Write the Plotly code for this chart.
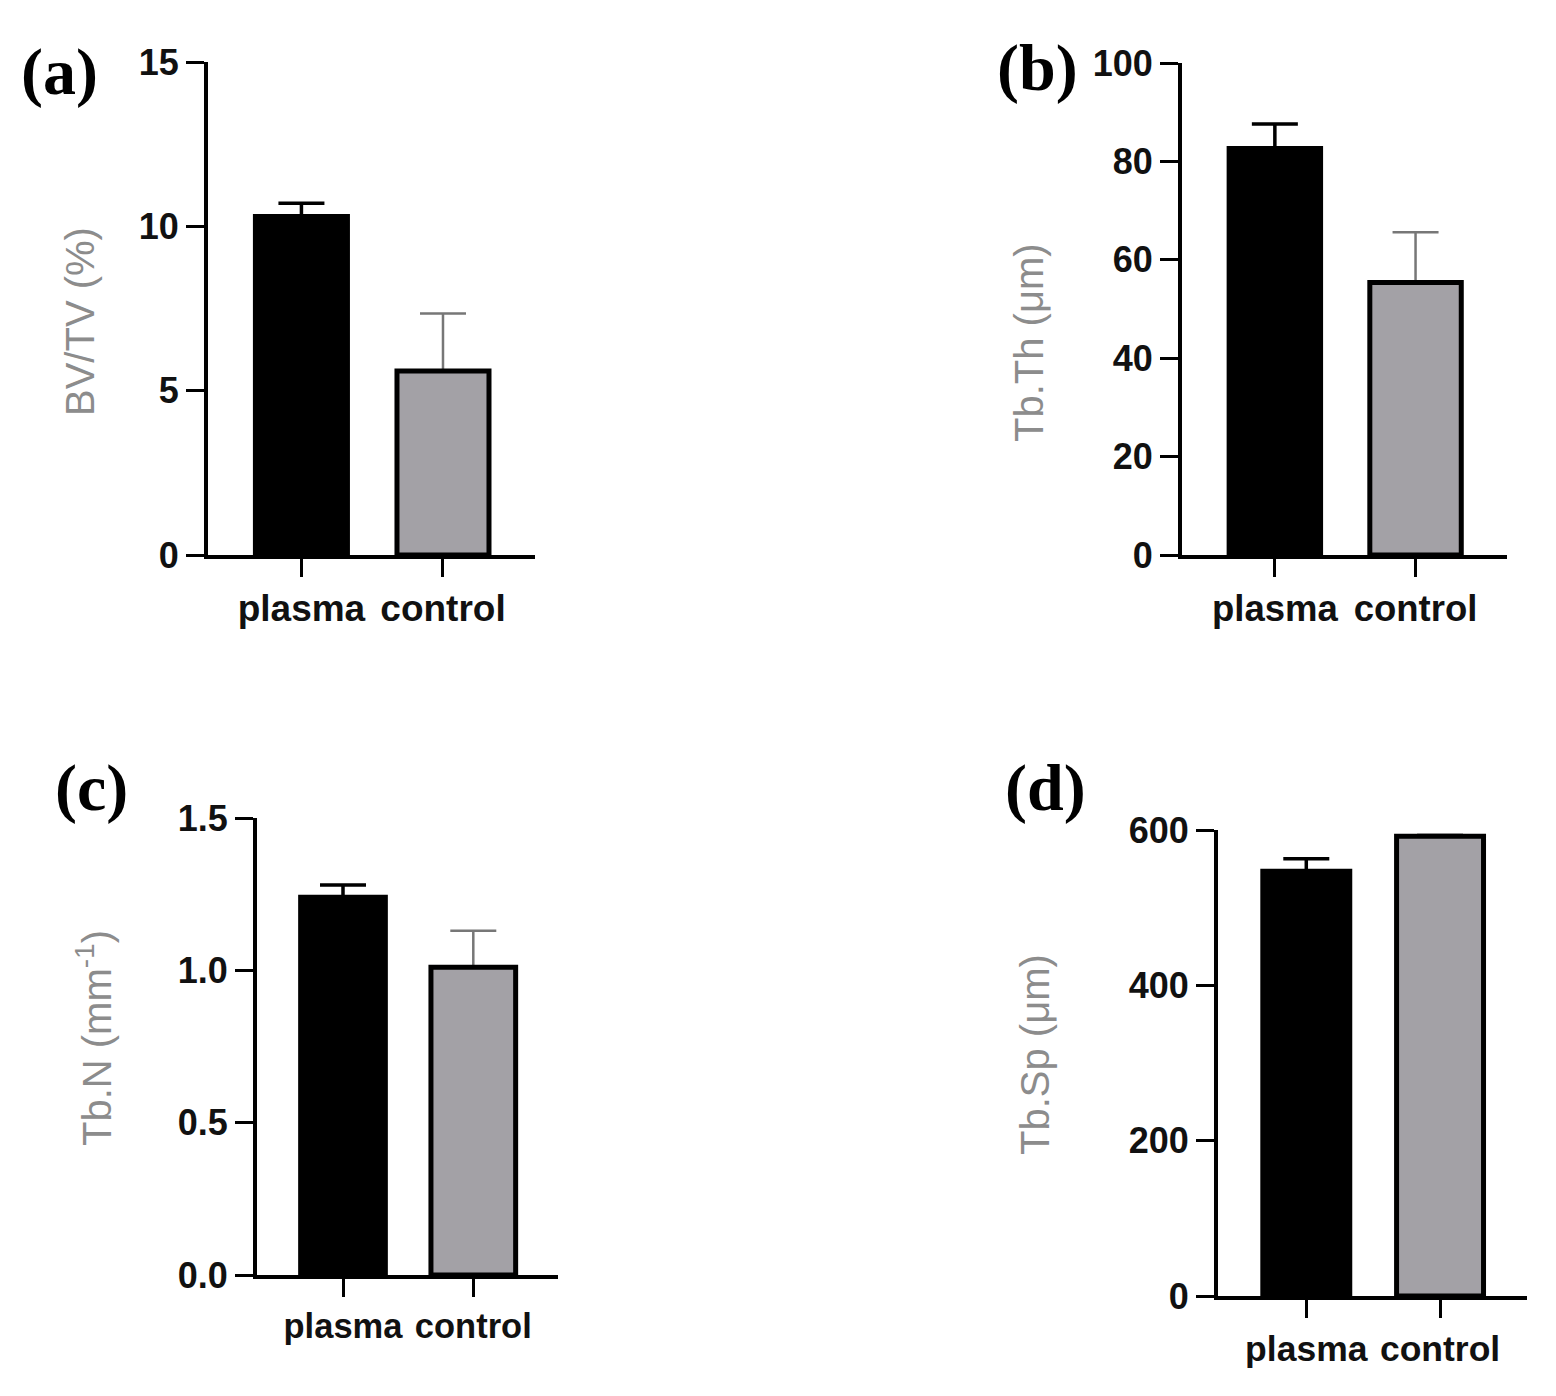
import plotly.graph_objects as go

# Grupos y valores (media + error superior)
grupos = ['plasma', 'control']

bvtv = [10.3, 5.6]
bvtv_err = [0.4, 1.75]

tbth = [82.6, 55.4]
tbth_err = [5.0, 10.2]

tbn = [1.24, 1.01]
tbn_err = [0.04, 0.12]

tbsp = [547, 592]
tbsp_err = [16, 2]

titulos_y = ['BV/TV (%)', 'Tb.Th (μm)', 'Tb.N (mm<sup>-1</sup>)', 'Tb.Sp (μm)']
etiquetas = ['(a)', '(b)', '(c)', '(d)']
rangos_y = [[0, 15], [0, 100], [0, 1.5], [0, 600]]
ticks_y = [[0, 5, 10, 15], [0, 20, 40, 60, 80, 100], [0, 0.5, 1.0, 1.5], [0, 200, 400, 600]]
ticks_txt = [['0', '5', '10', '15'], ['0', '20', '40', '60', '80', '100'],
             ['0.0', '0.5', '1.0', '1.5'], ['0', '200', '400', '600']]

series = [(bvtv, bvtv_err), (tbth, tbth_err), (tbn, tbn_err), (tbsp, tbsp_err)]

# el body de la pagina deja 8 px de margen, se descuenta
OFF = 8
W, H = 1556 - OFF, 1396 - OFF
# posiciones de cada panel en pixeles de la imagen: x0, x1, y_top, y_bottom
paneles = [
    dict(x0=208, x1=535, yt=62, yb=555, lab=(59, 72), tit=(80, 322), fx=37),
    dict(x0=1182, x1=1507, yt=63, yb=555, lab=(1037, 68), tit=(1029, 343), fx=36.5),
    dict(x0=257, x1=558, yt=818, yb=1275, lab=(91, 788), tit=(94, 1038), fx=34.5),
    dict(x0=1218, x1=1527, yt=830, yb=1296, lab=(1045, 788), tit=(1035, 1055), fx=35.5),
]

colores = ['#000000', '#a3a1a6']
colores_err = ['#000000', '#777777']
grosor_err = [3.5, 2.5]

fig = go.Figure()
ytick_font = dict(family='Liberation Sans, Arial', size=36, color='#111111', weight='bold')

for i, (vals, errs) in enumerate(series):
    n = '' if i == 0 else str(i + 1)
    for j, g in enumerate(grupos):
        # primero la barra de error (barra invisible), luego la barra real encima
        fig.add_trace(go.Bar(
            x=[g], y=[vals[j]],
            xaxis='x' + n, yaxis='y' + n,
            width=0.65,
            marker=dict(color='rgba(0,0,0,0)', line=dict(width=0)),
            error_y=dict(type='data', symmetric=False, array=[errs[j]], arrayminus=[0],
                         color=colores_err[j], thickness=grosor_err[j], width=23),
            showlegend=False, hoverinfo='skip',
        ))
        fig.add_trace(go.Bar(
            x=[g], y=[vals[j]],
            xaxis='x' + n, yaxis='y' + n,
            width=0.65,
            marker=dict(color=colores[j], line=dict(color='#000000', width=5)),
            showlegend=False,
        ))

    p = paneles[i]
    fig.layout['xaxis' + n] = dict(
        domain=[(p['x0'] - OFF) / W, (p['x1'] - OFF) / W],
        anchor='y' + n, automargin=False,
        type='category', categoryorder='array', categoryarray=grupos,
        range=[-0.66, 1.65],
        showline=True, linecolor='#000000', linewidth=4,
        ticks='outside', ticklen=18, tickwidth=3, tickcolor='#000000',
        tickfont=dict(family='Liberation Sans, Arial', size=p['fx'], color='#111111', weight='bold'),
        showgrid=False, zeroline=False,
    )
    fig.layout['yaxis' + n] = dict(
        domain=[1 - (p['yb'] - OFF) / H, 1 - (p['yt'] - OFF) / H],
        anchor='x' + n, automargin=False,
        range=rangos_y[i],
        tickvals=ticks_y[i], ticktext=ticks_txt[i],
        showline=True, linecolor='#000000', linewidth=4,
        ticks='outside', ticklen=18, tickwidth=3, tickcolor='#000000',
        tickfont=ytick_font, showgrid=False, zeroline=False,
    )
    # titulo del eje y (gris, vertical)
    fig.add_annotation(
        text=titulos_y[i], xref='paper', yref='paper',
        x=(p['tit'][0] - OFF) / W, y=1 - (p['tit'][1] - OFF) / H,
        xanchor='center', yanchor='middle', textangle=-90, showarrow=False,
        font=dict(family='Liberation Sans, Arial', size=40, color='#8c8c8c'),
    )
    fig.add_annotation(
        text='<b>' + etiquetas[i] + '</b>', xref='paper', yref='paper',
        x=(p['lab'][0] - OFF) / W, y=1 - (p['lab'][1] - OFF) / H,
        xanchor='center', yanchor='middle', showarrow=False,
        font=dict(family='Liberation Serif, Times New Roman', size=66, color='#000000'),
    )

fig.update_layout(
    width=W, height=H,
    margin=dict(l=0, r=0, t=0, b=0),
    barmode='overlay',
    plot_bgcolor='white', paper_bgcolor='white',
)

fig.write_html('out.html')
